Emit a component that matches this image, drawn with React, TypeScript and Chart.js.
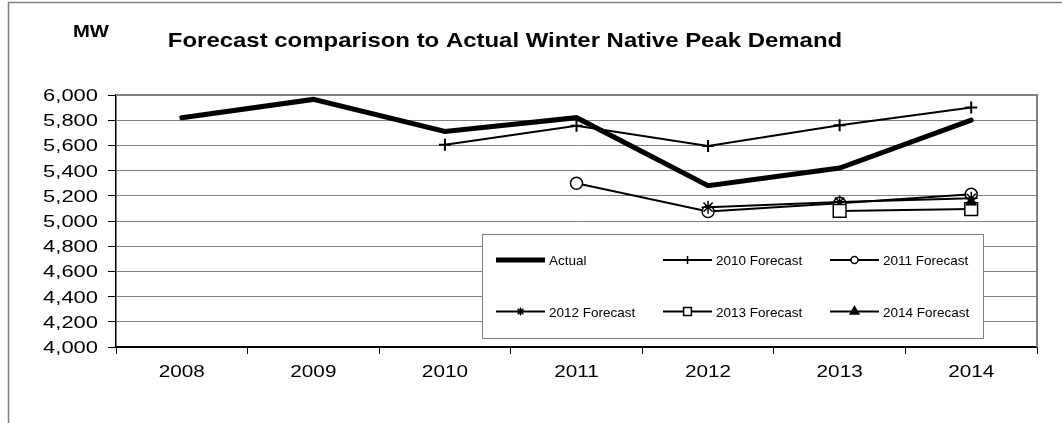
import React, { useEffect, useRef } from 'react';
import { Chart, registerables } from 'chart.js';
import { drawPoint } from 'chart.js/helpers';

Chart.register(...registerables);

// ---- data ----
const years = ['2008', '2009', '2010', '2011', '2012', '2013', '2014'];
const actual = [5820, 5965, 5710, 5820, 5280, 5420, 5800];
const forecast2010 = [null, null, 5605, 5755, 5595, 5760, 5900];
const forecast2011 = [null, null, null, 5300, 5075, 5140, 5212];
const forecast2012 = [null, null, null, null, 5110, 5150, 5180];
const forecast2013 = [null, null, null, null, null, 5080, 5095];
const forecast2014 = [null, null, null, null, null, null, 5150];
const yMin = 4000;
const yMax = 6000;
const yStep = 200;
const titleText = 'Forecast comparison to Actual Winter Native Peak Demand';
const unitText = 'MW';

const FONT = '"Liberation Sans", Arial, sans-serif';
const GRID = '#808080';

function stretchedText(
  ctx: CanvasRenderingContext2D,
  text: string,
  x: number,
  y: number,
  sx: number,
  align: CanvasTextAlign,
  font: string
) {
  ctx.save();
  ctx.translate(x, y);
  ctx.scale(sx, 1);
  ctx.font = font;
  ctx.textAlign = align;
  ctx.textBaseline = 'alphabetic';
  ctx.fillStyle = '#000';
  ctx.fillText(text, 0, 0);
  ctx.restore();
}

// Frame, titles, axis labels and the boxed legend
const decorPlugin = {
  id: 'decor',
  beforeDatasetsDraw(chart: any) {
    const { ctx, chartArea } = chart;
    ctx.save();
    ctx.strokeStyle = GRID;
    ctx.lineWidth = 2;
    ctx.beginPath();
    ctx.moveTo(chartArea.left, chartArea.top);
    ctx.lineTo(chartArea.right, chartArea.top);
    ctx.lineTo(chartArea.right, chartArea.bottom);
    ctx.stroke();
    ctx.restore();
  },
  afterDraw(chart: any) {
    const { ctx } = chart;
    const xs = chart.scales.x;
    const ys = chart.scales.y;

    // outer frame
    ctx.save();
    ctx.strokeStyle = GRID;
    ctx.lineWidth = 1.5;
    ctx.strokeRect(8.5, 2.5, 2000, 2000);
    ctx.restore();

    // titles
    stretchedText(ctx, titleText, 505, 47, 1.14, 'center', `bold 21px ${FONT}`);
    stretchedText(ctx, unitText, 73, 37, 1.19, 'left', `bold 17px ${FONT}`);

    // y tick labels
    ys.ticks.forEach((t: any) => {
      const y = ys.getPixelForValue(t.value);
      stretchedText(ctx, Number(t.value).toLocaleString('en-US'), 98, y + 6, 1.29, 'right', `17px ${FONT}`);
    });
    // x tick labels
    xs.ticks.forEach((t: any, i: number) => {
      const x = xs.getPixelForTick(i);
      stretchedText(ctx, xs.getLabelForValue(t.value), x, 376.5, 1.22, 'center', `17px ${FONT}`);
    });

    // legend box
    const bx = 482, by = 234, bw = 501, bh = 104;
    ctx.save();
    ctx.fillStyle = '#fff';
    ctx.fillRect(bx, by, bw, bh);
    ctx.strokeStyle = GRID;
    ctx.lineWidth = 1;
    ctx.strokeRect(bx + 0.5, by + 0.5, bw, bh);
    ctx.restore();

    const cols = [496, 663, 830];
    const rows = [260, 311.5];
    const lineLen = 49;
    const legendMarks = [
      { style: false, r: 0 },
      { style: 'cross', r: 4, fill: '#000' },
      { style: 'circle', r: 3.5, fill: '#fff' },
      { style: 'star', r: 4, fill: '#000' },
      { style: 'rect', r: 5.5, fill: '#fff' },
      { style: 'triangle', r: 5, fill: '#000' },
    ];
    chart.data.datasets.forEach((ds: any, i: number) => {
      const cx = cols[i % 3];
      const cy = rows[Math.floor(i / 3)];
      ctx.save();
      ctx.strokeStyle = '#000';
      ctx.lineWidth = ds.borderWidth;
      ctx.lineCap = 'butt';
      ctx.beginPath();
      ctx.moveTo(cx, cy);
      ctx.lineTo(cx + lineLen, cy);
      ctx.stroke();
      const m = legendMarks[i];
      if (m.style) {
        ctx.fillStyle = m.fill;
        ctx.strokeStyle = '#000';
        ctx.lineWidth = 1.5;
        drawPoint(ctx, { pointStyle: m.style, rotation: 0, radius: m.r, borderWidth: 1.5 } as any, cx + lineLen / 2, cy);
      }
      ctx.restore();
      ctx.save();
      ctx.font = `13.5px ${FONT}`;
      ctx.fillStyle = '#000';
      ctx.textAlign = 'left';
      ctx.textBaseline = 'alphabetic';
      ctx.fillText(ds.label, cx + lineLen + 4, cy + 5);
      ctx.restore();
    });
  },
};

export default function App() {
  const canvasRef = useRef<HTMLCanvasElement | null>(null);

  useEffect(() => {
    document.body.style.margin = '0';
    const canvas = canvasRef.current;
    if (!canvas) return;
    // later series are painted over earlier ones (lower order = drawn last)
    const chart = new Chart(canvas, {
      type: 'line',
      data: {
        labels: years,
        datasets: [
          {
            label: 'Actual',
            data: actual,
            order: 6,
            borderColor: '#000',
            borderWidth: 5,
            borderCapStyle: 'round',
            pointRadius: 0,
          },
          {
            label: '2010 Forecast',
            data: forecast2010,
            order: 5,
            borderColor: '#000',
            borderWidth: 2,
            pointStyle: 'cross',
            pointRadius: 6,
            pointBorderWidth: 2,
            pointBorderColor: '#000',
          },
          {
            label: '2011 Forecast',
            data: forecast2011,
            order: 4,
            borderColor: '#000',
            borderWidth: 2,
            pointStyle: 'circle',
            pointRadius: 6,
            pointBorderWidth: 1.5,
            pointBorderColor: '#000',
            pointBackgroundColor: '#fff',
          },
          {
            label: '2012 Forecast',
            data: forecast2012,
            order: 3,
            borderColor: '#000',
            borderWidth: 2,
            pointStyle: 'star',
            pointRadius: 6.5,
            pointBorderWidth: 1.5,
            pointBorderColor: '#000',
          },
          {
            label: '2013 Forecast',
            data: forecast2013,
            order: 2,
            borderColor: '#000',
            borderWidth: 2,
            pointStyle: 'rect',
            pointRadius: 9,
            pointBorderWidth: 1.5,
            pointBorderColor: '#000',
            pointBackgroundColor: '#fff',
          },
          {
            label: '2014 Forecast',
            data: forecast2014,
            order: 1,
            borderColor: '#000',
            borderWidth: 2,
            pointStyle: 'triangle',
            pointRadius: 6,
            pointBorderWidth: 1,
            pointBorderColor: '#000',
            pointBackgroundColor: '#000',
          },
        ],
      },
      options: {
        animation: false,
        responsive: false,
        devicePixelRatio: 1,
        layout: { padding: { top: 95, right: 25, left: 0, bottom: 0 } },
        plugins: {
          legend: { display: false },
          title: { display: false },
          tooltip: { enabled: false },
        },
        elements: { line: { tension: 0 } },
        scales: {
          x: {
            offset: true,
            grid: {
              offset: true,
              drawOnChartArea: false,
              drawTicks: true,
              tickLength: 7,
              tickColor: '#000',
              tickWidth: 1,
            },
            border: { color: '#000', width: 1.5 },
            ticks: { display: false },
            afterFit: (scale: any) => {
              scale.height = 76;
            },
          },
          y: {
            min: yMin,
            max: yMax,
            ticks: { display: false, stepSize: yStep },
            grid: {
              color: (c: any) => (c.tick && c.tick.value === yMin ? '#000' : GRID),
              lineWidth: 1,
              tickLength: 8,
              tickColor: '#000',
              tickWidth: 1,
            },
            border: { color: '#000', width: 1.5 },
            afterFit: (scale: any) => {
              scale.width = 116;
            },
          },
        },
      },
      plugins: [decorPlugin],
    } as any);
    return () => chart.destroy();
  }, []);

  return (
    <div style={{ width: 1062, height: 423, background: '#fff' }}>
      <canvas ref={canvasRef} width={1062} height={423} style={{ display: 'block' }} />
    </div>
  );
}
